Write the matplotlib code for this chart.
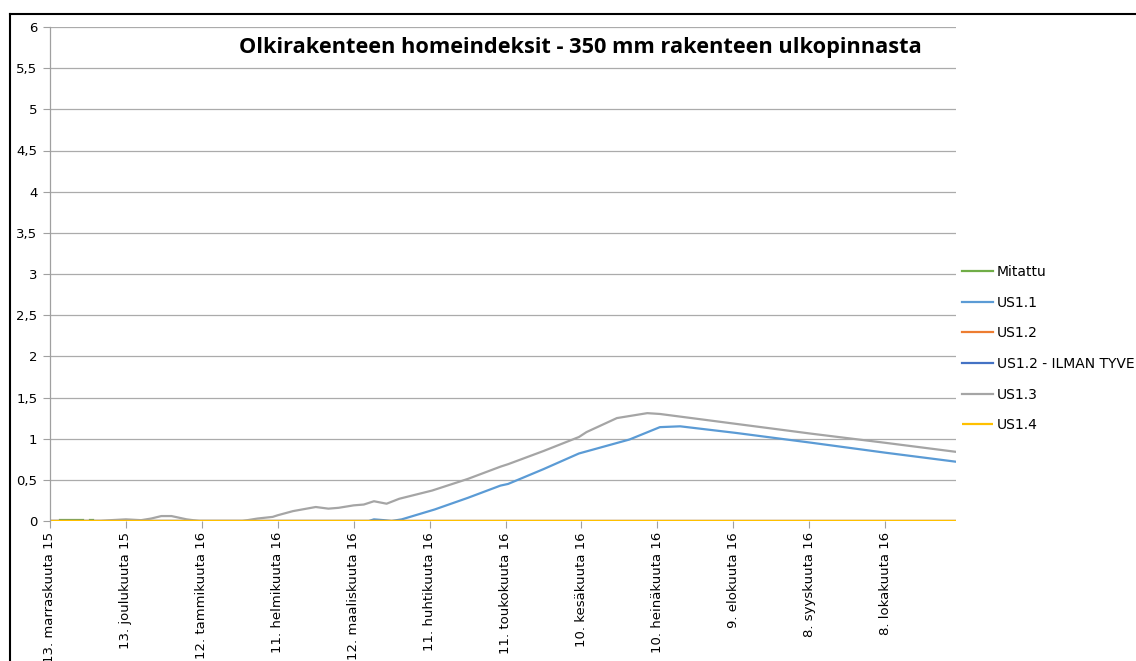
import matplotlib.pyplot as plt
from matplotlib.lines import Line2D

# Päivät alkaen 13.11.2015
tick_days = [0, 30, 60, 90, 120, 150, 180, 210, 240, 270, 300, 330]
tick_labels = [
    "13. marraskuuta 15", "13. joulukuuta 15", "12. tammikuuta 16",
    "11. helmikuuta 16", "12. maaliskuuta 16", "11. huhtikuuta 16",
    "11. toukokuuta 16", "10. kesäkuuta 16", "10. heinäkuuta 16",
    "9. elokuuta 16", "8. syyskuuta 16", "8. lokakuuta 16",
]
x_end = 358

# Mitattu (vain lyhyitä pätkiä alussa)
mitattu_days = [4, 8, 13, None, 16, 17]
mitattu_vals = [0.01, 0.01, 0.01, None, 0.01, 0.01]

# US1.1
us11_days = [0, 90, 126, 128, 132, 135, 139, 152, 165, 178, 181, 195, 209,
             229, 241, 249, 271, 301, 330, 358]
us11_vals = [0, 0, 0, 0.02, 0.01, 0, 0.02, 0.14, 0.28, 0.43, 0.45, 0.63, 0.82,
             0.99, 1.14, 1.15, 1.07, 0.95, 0.83, 0.72]

# US1.3
us13_days = [0, 20, 24, 30, 36, 40, 44, 48, 54, 59, 76, 82, 88, 90, 96, 105,
             110, 114, 120, 124, 128, 133, 138, 151, 165, 178, 181, 195, 209,
             212, 224, 236, 241, 271, 301, 330, 358]
us13_vals = [0, 0, 0.01, 0.02, 0.01, 0.03, 0.06, 0.06, 0.02, 0, 0, 0.03, 0.05,
             0.07, 0.12, 0.17, 0.15, 0.16, 0.19, 0.20, 0.24, 0.21, 0.27, 0.37,
             0.51, 0.66, 0.69, 0.85, 1.02, 1.08, 1.25, 1.31, 1.30, 1.18, 1.06,
             0.95, 0.84]

# US1.2, US1.2 - ILMAN TYVEK ja US1.4 pysyvät nollassa
zero_days = [0, x_end]
zero_vals = [0, 0]

y_ticks = [0, 0.5, 1, 1.5, 2, 2.5, 3, 3.5, 4, 4.5, 5, 5.5, 6]

W, H = 1136, 661
fig = plt.figure(figsize=(W / 100, H / 100), dpi=100)
ax = fig.add_axes([50 / W, 1 - 521 / H, 906 / W, 494 / H])

ax.plot(mitattu_days, mitattu_vals, color="#70AD47", lw=1.6, label="Mitattu")
ax.plot(us11_days, us11_vals, color="#5B9BD5", lw=1.6, label="US1.1")
ax.plot(zero_days, zero_vals, color="#ED7D31", lw=1.6, label="US1.2")
ax.plot(zero_days, zero_vals, color="#4472C4", lw=1.6,
        label="US1.2 - ILMAN TYVEK")
ax.plot(us13_days, us13_vals, color="#A5A5A5", lw=1.6, label="US1.3")
ax.plot(zero_days, zero_vals, color="#FFC000", lw=1.6, label="US1.4",
        solid_capstyle="butt")

ax.set_xlim(0, x_end)
ax.set_ylim(0, 6)
ax.set_yticks(y_ticks)
ax.set_yticklabels([f"{v:g}".replace(".", ",") for v in y_ticks],
                   fontsize=9.5)
ax.set_xticks(tick_days)
ax.set_xticklabels(tick_labels, rotation=90, fontsize=9.5, va="top")
ax.tick_params(axis="both", color="#A0A0A0", length=5, width=0.8)
ax.tick_params(axis="y", pad=4)
ax.tick_params(axis="x", pad=3)
ax.grid(axis="y", color="#ABABAB", lw=0.9)
ax.set_axisbelow(True)
for s in ["top", "right", "bottom"]:
    ax.spines[s].set_visible(False)
ax.spines["left"].set_color("#A0A0A0")
ax.spines["left"].set_linewidth(0.9)

fig.text(580 / W, 1 - 48 / H,
         "Olkirakenteen homeindeksit - 350 mm rakenteen ulkopinnasta",
         ha="center", va="center", fontsize=15.7, fontweight="bold",
         family="Open Sans")

leg = fig.legend(loc="upper left", bbox_to_anchor=(962 / W, 1 - 265 / H),
                 frameon=False, fontsize=10, handlelength=2.2,
                 handletextpad=0.3, labelspacing=1.2, borderpad=0,
                 borderaxespad=0)

# Kehys (ylä- ja vasen reuna)
fig.add_artist(Line2D([10 / W, 1], [1 - 14 / H, 1 - 14 / H], color="black",
                      lw=1.5, transform=fig.transFigure))
fig.add_artist(Line2D([10 / W, 10 / W], [1 - 14 / H, 0], color="black",
                      lw=1.5, transform=fig.transFigure))

fig.savefig("out.png", dpi=100)
